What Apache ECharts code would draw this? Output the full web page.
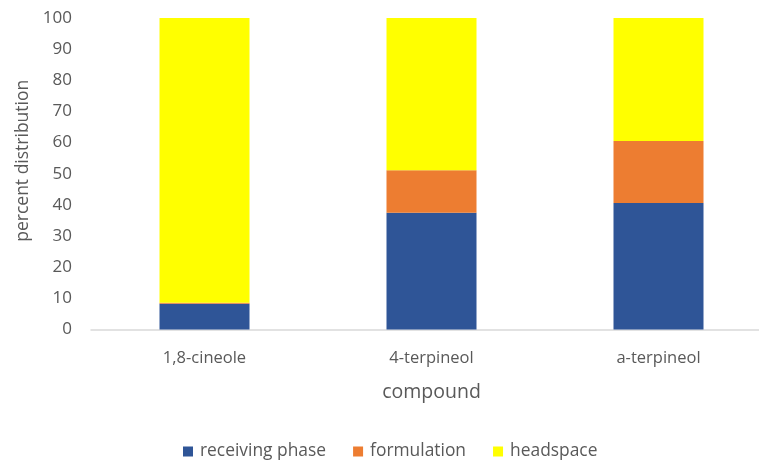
<!DOCTYPE html>
<html>
<head>
<meta charset="utf-8">
<script src="https://cdn.jsdelivr.net/npm/echarts@6/dist/echarts.min.js"></script>
<style>
  html, body { margin: 0; padding: 0; background: #ffffff; }
  #chart { width: 759px; height: 463px; }
</style>
</head>
<body>
<div id="chart"></div>
<script>
// Percent distribution of each compound across the three compartments
const compounds = ['1,8-cineole', '4-terpineol', 'a-terpineol'];
const receivingPhase = [8.3, 37.5, 40.6];
const formulation = [0.3, 13.6, 19.9];
const headspace = [91.4, 48.9, 39.5];
const yTicks = [0, 10, 20, 30, 40, 50, 60, 70, 80, 90, 100];

const FONT = '"Open Sans", Lato, sans-serif';
const TEXT = '#595959';

const chart = echarts.init(document.getElementById('chart'), null, { renderer: 'canvas' });

function stackSeries(name, values, color) {
  return {
    name: name,
    type: 'bar',
    stack: 'total',
    data: values,
    barWidth: 90,
    itemStyle: { color: color },
    emphasis: { disabled: true }
  };
}

chart.setOption({
  animation: false,
  textStyle: { fontFamily: FONT },
  grid: {
    left: 91, top: 18, width: 681, height: 311.5,
    containLabel: false,
    outerBoundsMode: 'none'
  },
  legend: {
    bottom: 3,
    left: 183,
    padding: 0,
    itemWidth: 10,
    itemHeight: 10,
    itemGap: 27,
    icon: 'rect',
    textStyle: { color: TEXT, fontSize: 17.4, fontFamily: FONT, padding: [0, 0, 0, 2] },
    data: ['receiving phase', 'formulation', 'headspace']
  },
  xAxis: {
    type: 'category',
    data: compounds,
    name: 'compound',
    nameLocation: 'middle',
    nameGap: 53,
    nameTextStyle: { color: TEXT, fontSize: 19.5, fontFamily: FONT },
    axisLine: { lineStyle: { color: '#d9d9d9', width: 1.5 } },
    axisTick: { show: false },
    axisLabel: { color: TEXT, fontSize: 16.5, margin: 20, fontFamily: FONT }
  },
  yAxis: {
    type: 'value',
    min: yTicks[0],
    max: yTicks[yTicks.length - 1],
    interval: 10,
    name: 'percent distribution',
    nameLocation: 'middle',
    nameGap: 52,
    nameTextStyle: { color: TEXT, fontSize: 17.5, fontFamily: FONT, padding: [0, 0, 0, 26] },
    axisLine: { show: false },
    axisTick: { show: false },
    splitLine: { show: false },
    axisLabel: { color: TEXT, fontSize: 17, margin: 19, fontFamily: FONT }
  },
  series: [
    stackSeries('receiving phase', receivingPhase, '#2F5597'),
    stackSeries('formulation', formulation, '#ED7D31'),
    stackSeries('headspace', headspace, '#FFFF00')
  ]
});
</script>
</body>
</html>
